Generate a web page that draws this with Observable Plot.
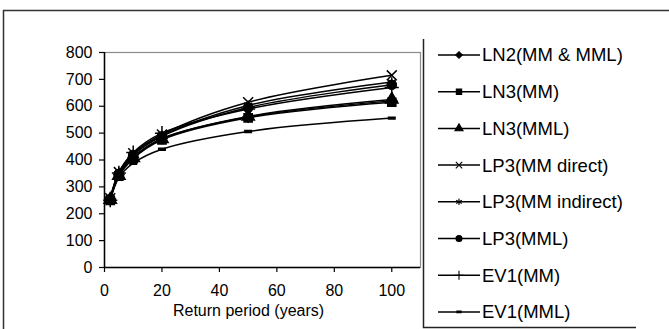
<!DOCTYPE html>
<html>
<head>
<meta charset="utf-8">
<script src="https://cdn.jsdelivr.net/npm/d3@7"></script>
<script src="https://cdn.jsdelivr.net/npm/@observablehq/plot@0.6"></script>
<style>
  html, body { margin: 0; padding: 0; background: #fff; }
  svg { display: block; }
</style>
</head>
<body>
<div id="chart"></div>
<script>
// Flood quantiles (m³/s) against return period for each distribution / fitting method
const returnPeriods = [2, 5, 10, 20, 50, 100];
const seriesNames = [
  "LN2(MM & MML)", "LN3(MM)", "LN3(MML)", "LP3(MM direct)",
  "LP3(MM indirect)", "LP3(MML)", "EV1(MM)", "EV1(MML)"
];
const ln2MmMml   = [255, 345, 410, 480, 560, 620];
const ln3Mm      = [250, 340, 405, 475, 557, 615];
const ln3Mml     = [252, 342, 408, 478, 562, 625];
const lp3MmDir   = [258, 355, 425, 495, 615, 715];
const lp3MmInd   = [256, 350, 420, 490, 603, 690];
const lp3Mml     = [254, 348, 418, 488, 595, 680];
const ev1Mm      = [250, 352, 428, 500, 590, 670];
const ev1Mml     = [253, 334, 388, 440, 506, 556];
const seriesValues = [ln2MmMml, ln3Mm, ln3Mml, lp3MmDir, lp3MmInd, lp3Mml, ev1Mm, ev1Mml];

const xTicks = [0, 20, 40, 60, 80, 100];
const yTicks = [0, 100, 200, 300, 400, 500, 600, 700, 800];
const xLabel = "Return period (years)";

// short, thin horizontal bar used for EV1(MML)
const symbolDash = {
  draw(context, size) {
    const w = Math.sqrt(size) * 0.4;
    context.rect(-w, -0.9, 2 * w, 1.8);
  }
};
const seriesSymbols = [
  d3.symbolDiamond2, d3.symbolSquare, d3.symbolTriangle, d3.symbolTimes,
  d3.symbolAsterisk, d3.symbolCircle, d3.symbolPlus, symbolDash
];

const rows = seriesNames.flatMap((name, i) =>
  returnPeriods.map((T, j) => ({name, T, Q: seriesValues[i][j]}))
);

const font = "'Liberation Sans', Arial, sans-serif";

const chart = Plot.plot({
  width: 669,
  height: 329,
  marginLeft: 104,
  marginRight: 249,
  marginTop: 52,
  marginBottom: 62,
  style: {fontFamily: font, fontSize: "16px", color: "#000", background: "#fff", overflow: "visible"},
  x: {domain: [0, 110]},
  y: {domain: [0, 800]},
  symbol: {domain: seriesNames, range: seriesSymbols},
  marks: [
    Plot.frame({stroke: "#8a8a8a", strokeWidth: 1.2}),
    Plot.axisY({ticks: yTicks, tickSize: 5, tickPadding: 7, label: null, fontSize: 16, strokeWidth: 1.2}),
    Plot.axisX({ticks: xTicks, tickSize: 5, tickPadding: 12, label: null, fontSize: 16, strokeWidth: 1.2}),
    Plot.ruleX([0], {stroke: "#000", strokeWidth: 1.5}),
    Plot.ruleY([0], {stroke: "#000", strokeWidth: 1.5}),
    Plot.line(rows, {x: "T", y: "Q", z: "name", stroke: "#000", strokeWidth: 1.5, curve: "catmull-rom"}),
    Plot.dot(rows, {x: "T", y: "Q", symbol: "name", r: 4.6, fill: "#000", stroke: "#000", strokeWidth: 1.5}),
    Plot.text([xLabel], {frameAnchor: "bottom", dy: 48, dx: -14, fontSize: 16, fill: "#000"})
  ]
});

const svg = d3.select(chart);

// outer chart border (runs past the right and bottom edges)
svg.append("rect")
  .attr("x", 3.5).attr("y", 10.5)
  .attr("width", 720).attr("height", 400)
  .attr("fill", "none").attr("stroke", "#333").attr("stroke-width", 1.5);

// legend box edges
svg.append("path")
  .attr("d", "M423.5,39 V327.5 H636")
  .attr("fill", "none").attr("stroke", "#222").attr("stroke-width", 1.5);

const legend = svg.append("g")
  .attr("font-family", font).attr("font-size", 18.5)
  .attr("text-anchor", "start").attr("fill", "#000");
seriesNames.forEach((name, i) => {
  const cy = 55 + i * 36.7;
  const g = legend.append("g").attr("transform", `translate(0,${cy})`);
  g.append("line").attr("x1", 438).attr("x2", 480).attr("y1", 0).attr("y2", 0)
    .attr("stroke", "#000").attr("stroke-width", 1.5);
  g.append("path")
    .attr("transform", "translate(459,0)")
    .attr("d", d3.symbol(seriesSymbols[i], Math.PI * 3 * 3)())
    .attr("fill", "#000").attr("stroke", "#000").attr("stroke-width", 1.1);
  g.append("text").attr("x", 482).attr("y", 0).attr("dy", "0.35em")
    .attr("text-anchor", "start").text(name);
});

document.getElementById("chart").append(chart);
</script>
</body>
</html>
